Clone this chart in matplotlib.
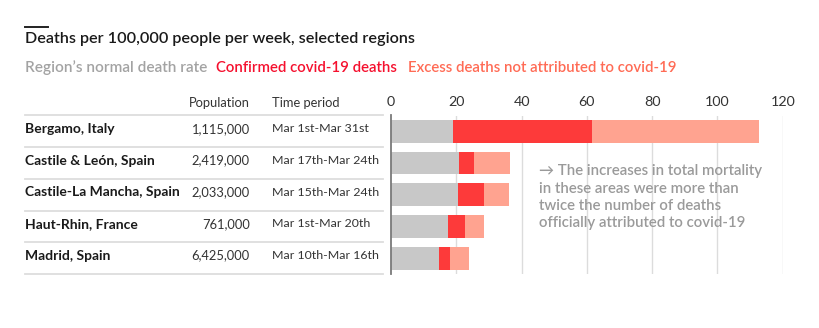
import matplotlib
matplotlib.use("Agg")
import matplotlib.pyplot as plt
from matplotlib.lines import Line2D

plt.rcParams['font.family'] = ['Lato', 'DejaVu Sans']

regions = ["Bergamo, Italy", "Castile & León, Spain", "Castile-La Mancha, Spain",
           "Haut-Rhin, France", "Madrid, Spain"]
population = ["1,115,000", "2,419,000", "2,033,000", "761,000", "6,425,000"]
periods = ["Mar 1st-Mar 31st", "Mar 17th-Mar 24th", "Mar 15th-Mar 24th",
           "Mar 1st-Mar 20th", "Mar 10th-Mar 16th"]
normal = [18.9, 20.8, 20.5, 17.5, 14.6]
confirmed = [42.8, 4.6, 7.9, 5.1, 3.4]
excess = [50.9, 11.2, 7.6, 5.9, 5.9]
xticks = [0, 20, 40, 60, 80, 100, 120]

W, H = 820, 328
fig = plt.figure(figsize=(W / 100, H / 100), dpi=100)
fig.patch.set_facecolor("white")

def fx(px):
    return px / W

def fy(py):
    return 1 - py / H

C_GRAY = "#c8c8c8"
C_RED = "#fd3a3a"
C_PINK = "#ffa390"

# bar axes
ax_left, ax_right = 391, 782.7
ax_top, ax_bot = 115.5, 274
ax = fig.add_axes([fx(ax_left), fy(ax_bot), fx(ax_right - ax_left), (ax_bot - ax_top) / H])
n = len(regions)
ys = list(range(n))
ax.set_xlim(0, 120)
ax.set_ylim(n - 0.5, -0.5)
for t in xticks[1:]:
    ax.axvline(t, color="#dcdcdc", lw=1, zorder=0)
left2 = [a + b for a, b in zip(normal, confirmed)]
ax.barh(ys, normal, height=0.72, color=C_GRAY, zorder=2)
ax.barh(ys, confirmed, left=normal, height=0.72, color=C_RED, zorder=2)
ax.barh(ys, excess, left=left2, height=0.72, color=C_PINK, zorder=2)
for s in ["top", "right", "bottom"]:
    ax.spines[s].set_visible(False)
ax.spines["left"].set_color("#7a7a7a")
ax.spines["left"].set_linewidth(1.3)
ax.set_yticks([])
ax.xaxis.tick_top()
ax.set_xticks(xticks)
ax.tick_params(axis="x", length=0, pad=5.5, labelsize=10.3, labelcolor="#333333")
ax.set_facecolor("none")

# annotation
ann = ("→ The increases in total mortality\nin these areas were more than\n"
       "twice the number of deaths\nofficially attributed to covid-19")
fig.text(fx(539), fy(164.5), ann, ha="left", va="top", fontsize=10.8,
         color="#9a9a9a", fontweight="semibold", linespacing=1.28)

# title
fig.add_artist(Line2D([fx(25), fx(48)], [fy(27), fy(27)], color="#222222", lw=1.4))
fig.text(fx(25), fy(39), "Deaths per 100,000 people per week, selected regions",
         ha="left", va="center", fontsize=11.6, fontweight="semibold", color="#1a1a1a")

# legend
fig.text(fx(25), fy(68), "Region’s normal death rate", ha="left", va="center",
         fontsize=11.1, fontweight="semibold", color="#a3a3a3")
fig.text(fx(216.5), fy(68), "Confirmed covid-19 deaths", ha="left", va="center",
         fontsize=10.8, fontweight="semibold", color="#f5102e")
fig.text(fx(408), fy(68), "Excess deaths not attributed to covid-19", ha="left", va="center",
         fontsize=10.8, fontweight="semibold", color="#ff6b55")

# table headers
fig.text(fx(250), fy(103), "Population", ha="right", va="center", fontsize=9.3, color="#333333")
fig.text(fx(272.5), fy(103), "Time period", ha="left", va="center", fontsize=9.3, color="#333333")

row_h = (ax_bot - ax_top) / n
for i in range(n + 1):
    yy = ax_top + i * row_h
    fig.add_artist(Line2D([fx(25), fx(383)], [fy(yy), fy(yy)], color="#dddddd", lw=1.3))
for i in range(n):
    yc = ax_top + (i + 0.5) * row_h - 2.5
    fig.text(fx(25), fy(yc), regions[i], ha="left", va="center", fontsize=10,
             fontweight="bold", color="#1a1a1a")
    fig.text(fx(250), fy(yc), population[i], ha="right", va="center", fontsize=9.3,
             color="#333333")
    fig.text(fx(272.5), fy(yc), periods[i], ha="left", va="center", fontsize=8.9,
             color="#333333")

fig.savefig("out.png", dpi=100, facecolor="white")
